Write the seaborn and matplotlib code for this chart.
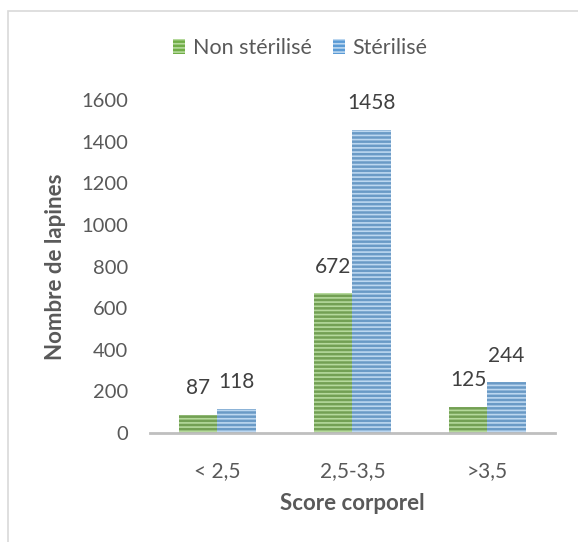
import matplotlib
matplotlib.use("Agg")
import matplotlib.pyplot as plt
from matplotlib.patches import Rectangle, Patch
import seaborn as sns
import pandas as pd

categories = ["< 2,5", "2,5-3,5", ">3,5"]
non_sterilise = [87, 672, 125]
sterilise = [118, 1458, 244]
series_names = ["Non stérilisé", "Stérilisé"]
y_ticks = [0, 200, 400, 600, 800, 1000, 1200, 1400, 1600]

df = pd.DataFrame({
    "Score corporel": categories * 2,
    "Nombre": non_sterilise + sterilise,
    "Groupe": [series_names[0]] * 3 + [series_names[1]] * 3,
})

sns.set_theme(style="white")
plt.rcParams["font.family"] = ["Lato", "DejaVu Sans"]
plt.rcParams["hatch.linewidth"] = 1.2

face = {series_names[0]: "#70AD47", series_names[1]: "#5B9BD5"}
stripe = {series_names[0]: "#B5D99C", series_names[1]: "#BCD7F0"}
text_col = "#595959"

fig = plt.figure(figsize=(5.78, 5.42), dpi=100)
ax = fig.add_axes([0.2595, 0.201, 0.7005, 0.614])

sns.barplot(data=df, x="Score corporel", y="Nombre", hue="Groupe",
            palette=face, width=0.57, gap=0, ax=ax, legend=False)

for container, name in zip(ax.containers, series_names):
    for bar in container:
        bar.set_hatch("----")
        bar.set_edgecolor(stripe[name])
        bar.set_linewidth(0)
    ax.bar_label(container, labels=[str(int(b.get_height())) for b in container],
                 padding=12, fontsize=15, color="#404040")

ax.set_ylim(0, 1600)
ax.set_yticks(y_ticks)
ax.set_yticklabels([str(t) for t in y_ticks])
ax.set_xlim(-0.5, 2.5)
for s in ["top", "right", "left"]:
    ax.spines[s].set_visible(False)
ax.spines["bottom"].set_color("#BFBFBF")
ax.spines["bottom"].set_linewidth(2)
ax.tick_params(axis="y", length=0, pad=16, labelsize=14.5, labelcolor=text_col)
ax.tick_params(axis="x", length=0, pad=20, labelsize=15, labelcolor=text_col)

ax.set_xlabel("Score corporel", fontsize=16, fontweight="bold", color=text_col, labelpad=9)
ax.set_ylabel("Nombre de lapines", fontsize=16, fontweight="bold", color=text_col, labelpad=11)

handles = [Patch(facecolor=face[n], edgecolor=stripe[n], hatch="----", linewidth=0)
           for n in series_names]
fig.legend(handles, series_names, loc="center", bbox_to_anchor=(0.52, 0.911),
           ncol=2, frameon=False, fontsize=15.5, handlelength=0.55, handleheight=0.7,
           handletextpad=0.35, columnspacing=1.0, labelcolor=text_col)

fig.patches.append(Rectangle((8 / 578, -0.5), 2, 0.5 + 1 - 11 / 542,
                             transform=fig.transFigure, fill=False,
                             edgecolor="#D9D9D9", linewidth=1.2))

fig.savefig("out.png", dpi=100, facecolor="white")
